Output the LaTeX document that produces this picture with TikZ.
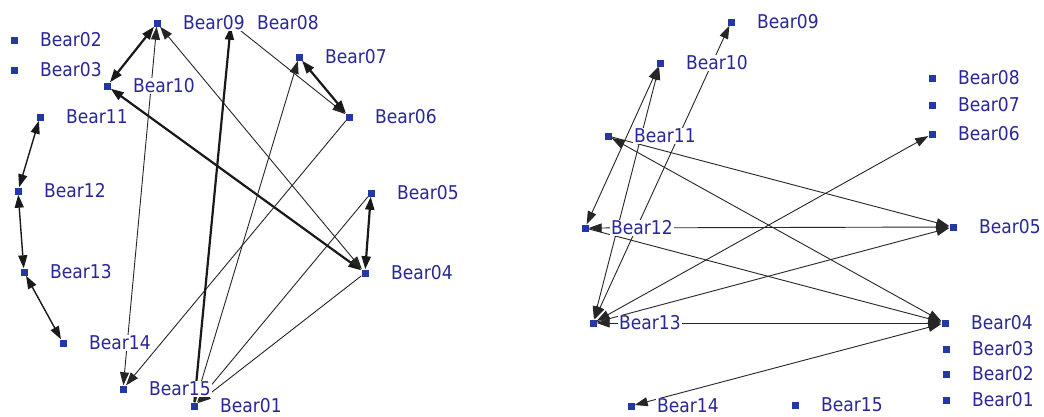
\documentclass[tikz,border=0pt]{standalone}
\usepackage{fontspec}
\setmainfont{DejaVu Sans}[FakeStretch=0.9]
\usetikzlibrary{arrows.meta}
\definecolor{nodeblue}{RGB}{35,55,165}
\definecolor{labelblue}{RGB}{40,40,150}
\begin{document}
\begin{tikzpicture}[x=1pt,y=-1pt,
  sq/.style={rectangle, draw=none, fill=nodeblue, minimum size=7pt, inner sep=0pt},
  lbl/.style={anchor=west, fill=white, inner sep=1pt, text=labelblue, font=\fontsize{19}{19}\selectfont},
  ln/.style={draw=black!85, line width=0.9pt},
  med/.style={draw=black!90, line width=1.4pt},
  thk/.style={draw=black!90, line width=2.2pt},
  >={Triangle[length=13pt,width=9pt]}
]
\path[use as bounding box, fill=white] (0,0) rectangle (1044,416);

% ---------- nodes (squares) ----------
\foreach \n/\x/\y in {
  L01/194/406, L02/14/40, L03/14/70, L04/365/273, L05/371/193, L06/349/117,
  L07/299/57, L08/231/23, L09/157/23, L10/107/86, L11/40/117, L12/18/191,
  L13/24/272, L14/63/343, L15/123/389,
  R01/946/400, R02/946/374, R03/946/349, R04/945/323, R05/953/227, R06/932/134,
  R07/932/105, R08/932/78, R09/731/22, R10/660/63, R11/608/136, R12/585/228,
  R13/593/323, R14/631/406, R15/795/405}
  \node[sq] (\n) at (\x,\y) {};

% ---------- left graph edges ----------
\draw[thk,<->] (L09) -- (L10);
\draw[thk,<->] (L10) -- (L04);
\draw[ln,<->] (L09) -- (L04);
\draw[ln,<->] (L09) -- (L15);
\draw[ln,->] (L06) -- (L15);
\draw[ln,->] (L08) -- (L06);
\draw[thk,<->] (L07) -- (L06);
\draw[thk,<->] (L05) -- (L04);
\draw[med,<->] (L11) -- (L12);
\draw[med,<->] (L12) -- (L13);
\draw[med,<->] (L13) -- (L14);
\draw[thk,->] (L01) -- (L08);
\draw[ln,->] (L01) -- (L07);
\draw[ln,->] (L05) -- (L01);
\draw[ln,->] (L04) -- (L01);

% ---------- right graph edges ----------
\draw[ln,<->] (R13) -- (R09);
\draw[ln,<->] (R12) -- (R10);
\draw[ln,<->] (R13) -- (R10);
\draw[ln,<->] (R11) -- (R04);
\draw[ln,->] (R11) -- (R05);
\draw[ln,<->] (R12) -- (R05);
\draw[ln,->] (R12) -- (R04);
\draw[ln,<->] (R13) -- (R04);
\draw[ln,->] (R13) -- (R05);
\draw[ln,<->] (R13) -- (R06);
\draw[ln,<->] (R14) -- (R04);

% ---------- labels ----------
\foreach \n/\t in {
  L01/Bear01, L02/Bear02, L03/Bear03, L04/Bear04, L05/Bear05, L06/Bear06,
  L07/Bear07, L08/Bear08, L09/Bear09, L10/Bear10, L11/Bear11, L12/Bear12,
  L13/Bear13, L14/Bear14, L15/Bear15,
  R01/Bear01, R02/Bear02, R03/Bear03, R04/Bear04, R05/Bear05, R06/Bear06,
  R07/Bear07, R08/Bear08, R09/Bear09, R10/Bear10, R11/Bear11, R12/Bear12,
  R13/Bear13, R14/Bear14, R15/Bear15}
  \node[lbl] (\n-l) at ([xshift=25pt]\n.center) {\t};
\end{tikzpicture}
\end{document}
